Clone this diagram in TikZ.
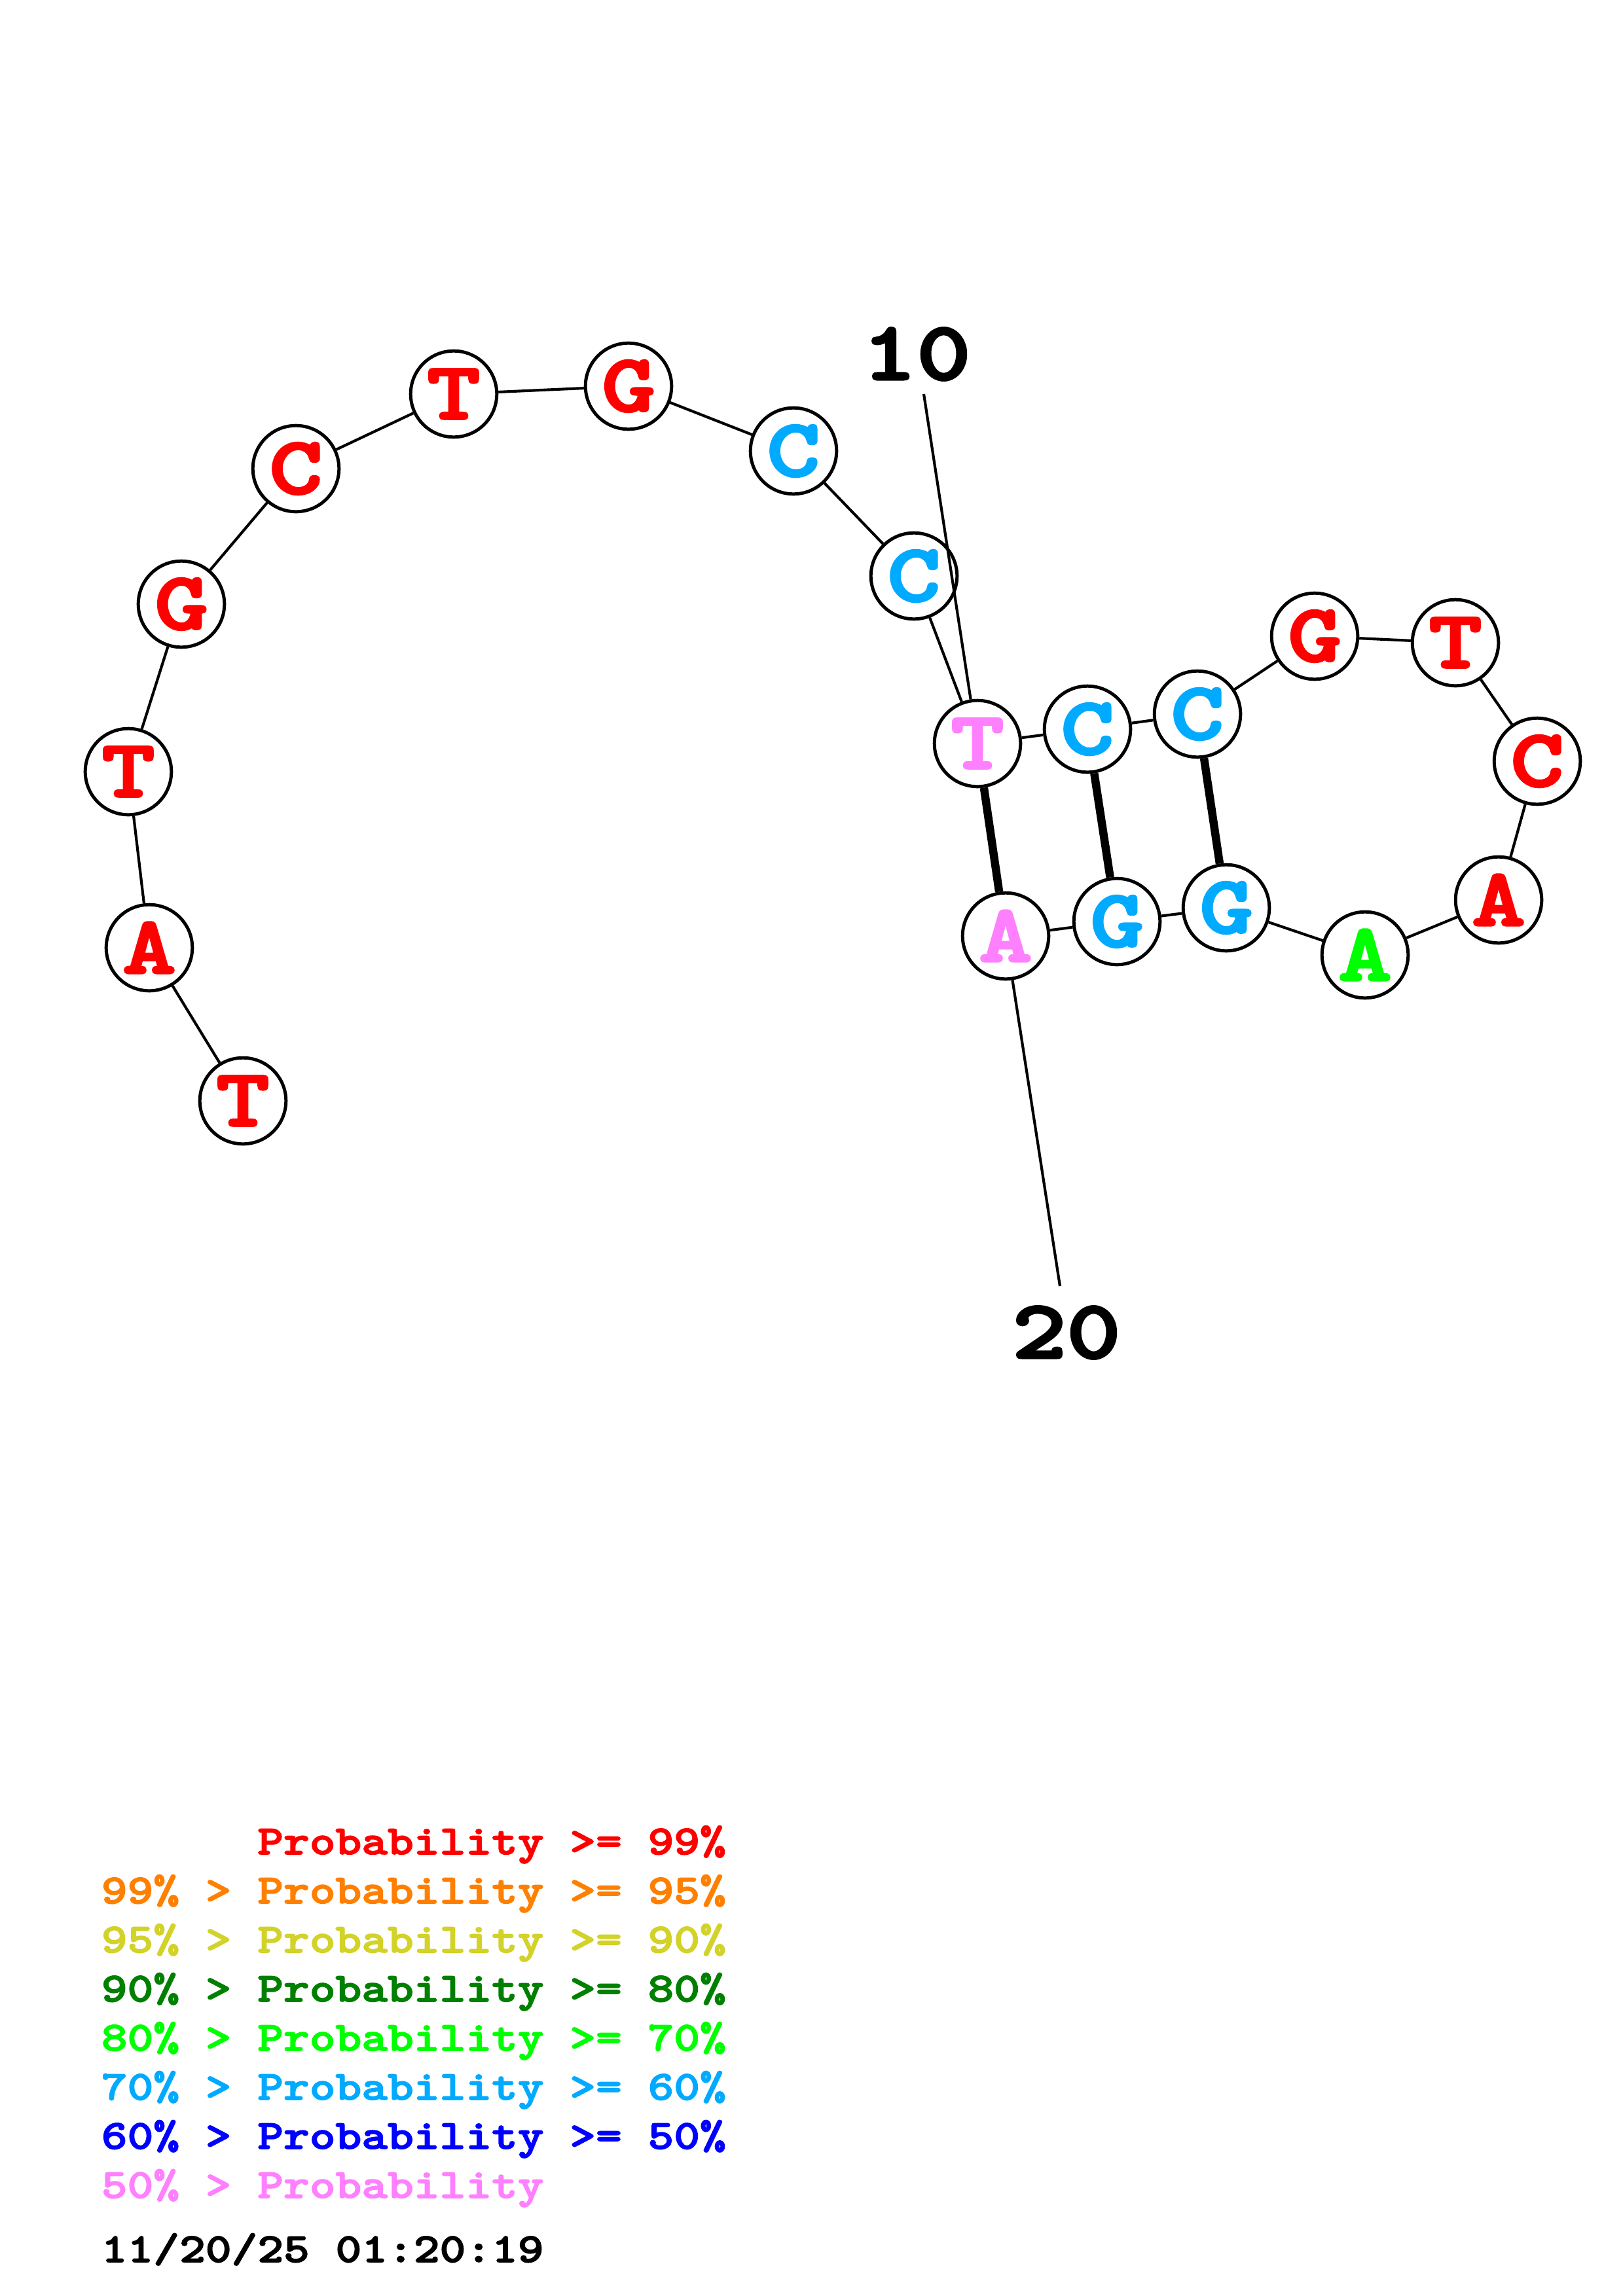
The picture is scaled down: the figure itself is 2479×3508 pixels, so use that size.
\documentclass[tikz,border=0pt]{standalone}
\usepackage{fontspec}
\setmainfont{Liberation Mono}
\newfontfamily\cour{lmmonolt10-bold.otf}[FakeStretch=1.25, FakeBold=3]
\newfontfamily\courleg{lmmonolt10-bold.otf}[FakeStretch=1.2, FakeBold=2.5]
\definecolor{cRed}{RGB}{255,0,0}
\definecolor{cOrange}{RGB}{255,128,0}
\definecolor{cYellow}{RGB}{210,210,40}
\definecolor{cDkGreen}{RGB}{0,128,0}
\definecolor{cGreen}{RGB}{0,255,0}
\definecolor{cSky}{RGB}{0,170,255}
\definecolor{cBlue}{RGB}{0,0,255}
\definecolor{cPink}{RGB}{255,128,255}
\begin{document}
\begin{tikzpicture}[x=0.2409pt,y=-0.2409pt,
  nt/.style={circle, draw=black, fill=white, line width=1.2pt, minimum size=31.7pt, inner sep=0pt,
    font=\fontsize{30}{30}\selectfont\cour},
  bb/.style={line width=1.0pt},
  bpair/.style={line width=3.0pt},
  lbl/.style={font=\fontsize{30.5}{30.5}\selectfont\cour, inner sep=0pt},
  leg/.style={anchor=base west, inner sep=0pt, font=\fontsize{15.2}{15.2}\selectfont\courleg}]
\useasboundingbox[fill=white] (0,0) rectangle (2479,3508);
% nucleotides
\node[nt, text=cRed]  (n1)  at (371,1682) {T};
\node[nt, text=cRed]  (n2)  at (228,1448) {A};
\node[nt, text=cRed]  (n3)  at (196,1179) {T};
\node[nt, text=cRed]  (n4)  at (277,923)  {G};
\node[nt, text=cRed]  (n5)  at (452,716)  {C};
\node[nt, text=cRed]  (n6)  at (693,602)  {T};
\node[nt, text=cRed]  (n7)  at (960,590)  {G};
\node[nt, text=cSky]  (n8)  at (1212,689) {C};
\node[nt, text=cSky]  (n9)  at (1396,880) {C};
\node[nt, text=cPink] (n10) at (1493,1136) {T};
\node[nt, text=cSky]  (n11) at (1661,1114) {C};
\node[nt, text=cSky]  (n12) at (1829,1091) {C};
\node[nt, text=cRed]  (n13) at (2008,972)  {G};
\node[nt, text=cRed]  (n14) at (2223,982)  {T};
\node[nt, text=cRed]  (n15) at (2348,1163) {C};
\node[nt, text=cRed]  (n16) at (2289,1375) {A};
\node[nt, text=cGreen](n17) at (2085,1459) {A};
\node[nt, text=cSky]  (n18) at (1873,1387) {G};
\node[nt, text=cSky]  (n19) at (1706,1408) {G};
\node[nt, text=cPink] (n20) at (1536,1430) {A};
% backbone
\foreach \a/\b in {n1/n2,n2/n3,n3/n4,n4/n5,n5/n6,n6/n7,n7/n8,n8/n9,n9/n10,n10/n11,n11/n12,n12/n13,n13/n14,n14/n15,n15/n16,n16/n17,n17/n18,n18/n19,n19/n20}
  \draw[bb] (\a) -- (\b);
% base pairs
\draw[bpair] (n10) -- (n20);
\draw[bpair] (n11) -- (n19);
\draw[bpair] (n12) -- (n18);
% position labels
\node[lbl] (l10) at (1400,541) {10};
\node[lbl] (l20) at (1629,2036) {20};
\coordinate (l10e) at (1411,602);
\coordinate (l20e) at (1619,1965);
\draw[bb] (l10e) -- (n10);
\draw[bb] (l20e) -- (n20);
% legend
\node[leg, text=cRed]     (g1) at (154,2833) {\phantom{99\% > }Probability >= 99\%};
\node[leg, text=cOrange]  (g2) at (154,2908) {99\% > Probability >= 95\%};
\node[leg, text=cYellow]  (g3) at (154,2983) {95\% > Probability >= 90\%};
\node[leg, text=cDkGreen] (g4) at (154,3058) {90\% > Probability >= 80\%};
\node[leg, text=cGreen]   (g5) at (154,3133) {80\% > Probability >= 70\%};
\node[leg, text=cSky]     (g6) at (154,3208) {70\% > Probability >= 60\%};
\node[leg, text=cBlue]    (g7) at (154,3283) {60\% > Probability >= 50\%};
\node[leg, text=cPink]    (g8) at (154,3358) {50\% > Probability};
\node[leg, text=black]    (g9) at (154,3456) {11/20/25 01:20:19};
\end{tikzpicture}
\end{document}
